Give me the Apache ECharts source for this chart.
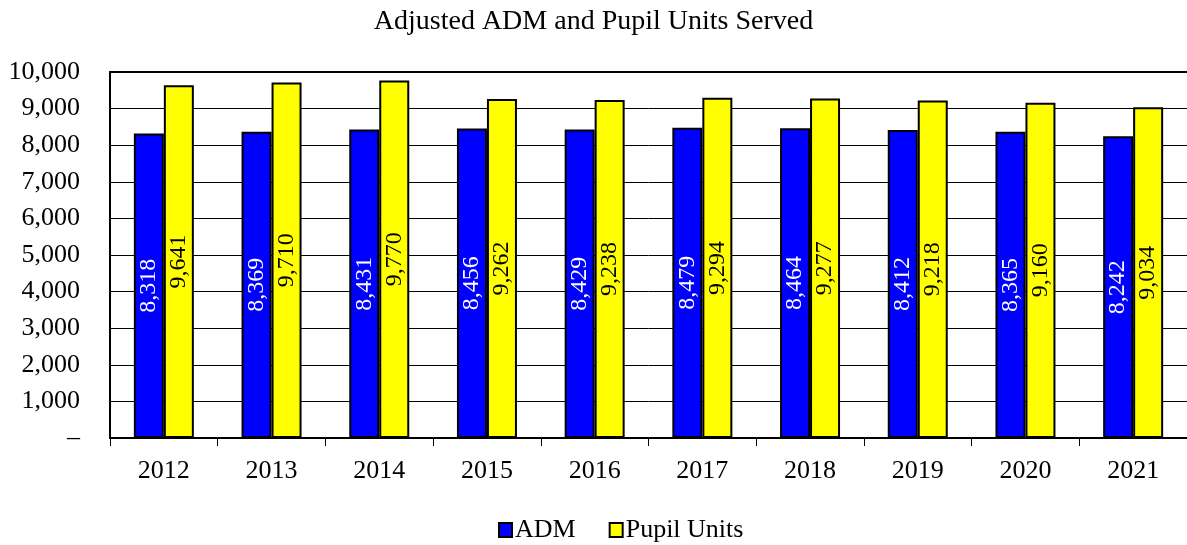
<!DOCTYPE html>
<html><head><meta charset="utf-8">
<script src="https://cdn.jsdelivr.net/npm/echarts@6/dist/echarts.min.js"></script>
<style>html,body{margin:0;padding:0;background:#fff}#c{width:1187px;height:545px}</style>
</head><body><div id="c"></div>
<script>
const categories = ['2012','2013','2014','2015','2016','2017','2018','2019','2020','2021'];
const admValues = [8318,8369,8431,8456,8429,8479,8464,8412,8365,8242];
const pupilValues = [9641,9710,9770,9262,9238,9294,9277,9218,9160,9034];
const seriesNames = ['ADM','Pupil Units'];
const titleText = 'Adjusted ADM and Pupil Units Served';

const font = '"Liberation Serif", "Times New Roman", serif';
const fmt = v => v === 0 ? '–' : v.toLocaleString('en-US');
const chart = echarts.init(document.getElementById('c'));
chart.setOption({
  animation: false,
  textStyle: {fontFamily: font},
  title: {text: titleText, left: 'center', top: 3,
    textStyle: {fontFamily: font, fontSize: 28, fontWeight: 'normal', color: '#000'}},
  legend: {top: 512, left: 493, itemWidth: 13, itemHeight: 14, itemGap: 33,
    textStyle: {fontFamily: font, fontSize: 26, color: '#000', padding: [0, 0, 0, -2]},
    data: seriesNames.map(n => ({name: n, icon: 'rect'}))},
  grid: {left: 110, right: 0, top: 72, bottom: 107, containLabel: false},
  xAxis: [{type: 'category', data: categories,
    axisLine: {lineStyle: {color: '#000', width: 2}},
    axisTick: {show: true, length: 8, lineStyle: {color: '#000', width: 1}},
    axisLabel: {fontFamily: font, fontSize: 26, color: '#000', margin: 20}},
    {type: 'category', data: categories, position: 'top',
    axisLine: {lineStyle: {color: '#000', width: 2}}, axisTick: {show: false}, axisLabel: {show: false}}],
  yAxis: {type: 'value', min: 0, max: 10000, interval: 1000,
    axisLine: {show: true, lineStyle: {color: '#000', width: 2}},
    axisTick: {show: false},
    splitLine: {lineStyle: {color: '#000', width: 1}},
    axisLabel: {fontFamily: font, fontSize: 26, color: '#000', margin: 30, formatter: fmt}},
  series: [
    {name: seriesNames[0], type: 'bar', data: admValues, barWidth: 30, barGap: '0%',
     itemStyle: {color: '#0000FF', borderColor: '#000', borderWidth: 2},
     label: {show: true, position: 'inside', rotate: 90, fontFamily: font, fontSize: 24, color: '#fff',
       formatter: p => fmt(p.value)}},
    {name: seriesNames[1], type: 'bar', data: pupilValues, barWidth: 30,
     itemStyle: {color: '#FFFF00', borderColor: '#000', borderWidth: 2},
     label: {show: true, position: 'inside', rotate: 90, fontFamily: font, fontSize: 24, color: '#000',
       formatter: p => fmt(p.value)}}
  ]
});
</script></body></html>
